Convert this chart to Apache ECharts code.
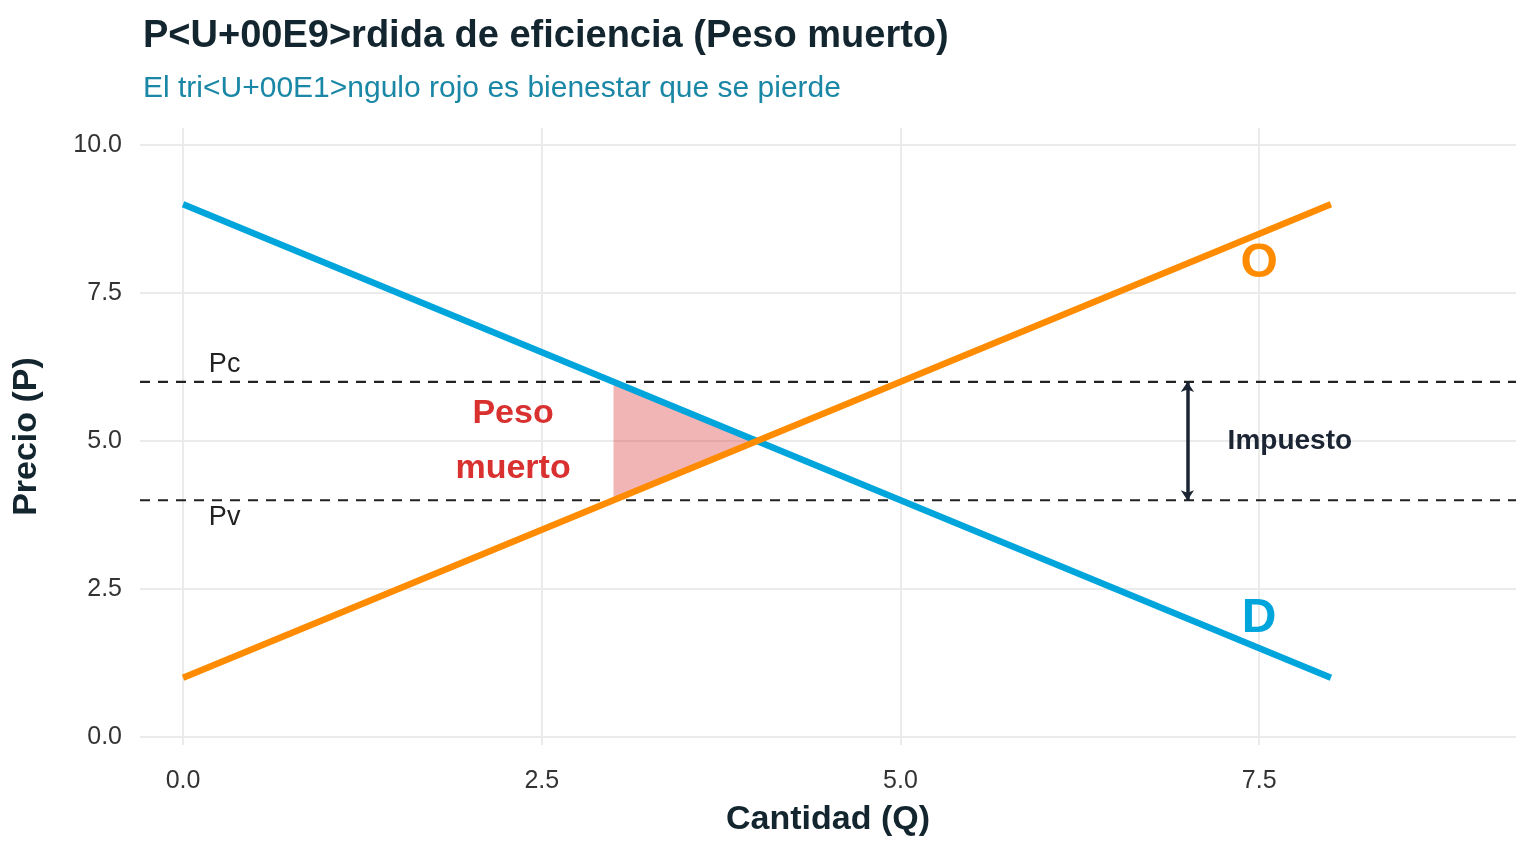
<!DOCTYPE html>
<html>
<head>
<meta charset="UTF-8">
<script src="https://cdn.jsdelivr.net/npm/echarts@6/dist/echarts.min.js"></script>
<style>body{margin:0;padding:0;background:#fff}#main{width:1536px;height:864px}</style>
</head>
<body>
<div id="main"></div>
<script>
var demanda = [[0, 9], [8, 1]];
var oferta = [[0, 1], [8, 9]];
var pc = 6, pv = 4;
var triangulo = [[3, 6], [3, 4], [4, 5]];
var impuestoX = 7;
var xTicks = [0, 2.5, 5, 7.5];
var yTicks = [0, 2.5, 5, 7.5, 10];
var X_MIN = -0.3, X_MAX = 9.29;

var chart = echarts.init(document.getElementById('main'));
function txt(name, x, y, color, size, weight, align, lh) {
  return {type: 'scatter', symbolSize: 0, silent: true, z: 10,
    itemStyle: {opacity: 1, color: color},
    data: [[x, y]],
    label: {show: true, formatter: name, position: 'inside', color: color, opacity: 1,
      fontSize: size, fontWeight: weight, align: align || 'center', lineHeight: lh || size * 1.2,
      fontFamily: 'Liberation Sans'}};
}
chart.setOption({
  animation: false,
  textStyle: {fontFamily: 'Liberation Sans'},
  title: {text: 'P<U+00E9>rdida de eficiencia (Peso muerto)',
    subtext: 'El tri<U+00E1>ngulo rojo es bienestar que se pierde',
    left: 138, top: 13, itemGap: 18,
    textStyle: {fontSize: 38, fontWeight: 'bold', color: '#13262f'},
    subtextStyle: {fontSize: 30, color: '#1b87a6'}},
  grid: {left: 140, right: 20, top: 128, bottom: 119},
  xAxis: {type: 'value', min: X_MIN, max: X_MAX,
    name: 'Cantidad (Q)', nameLocation: 'middle', nameGap: 58,
    nameTextStyle: {fontSize: 34, fontWeight: 'bold', color: '#13262f'},
    axisLine: {show: false},
    axisTick: {show: false, customValues: xTicks},
    axisLabel: {customValues: xTicks, fontSize: 25, color: '#333', margin: 24,
      formatter: function (v) { return v.toFixed(1); }},
    splitLine: {show: true, lineStyle: {color: '#ebebeb', width: 2}}},
  yAxis: {type: 'value', min: -0.135, max: 10.29,
    name: 'Precio (P)', nameLocation: 'middle', nameGap: 96,
    nameTextStyle: {fontSize: 34, fontWeight: 'bold', color: '#13262f'},
    axisLine: {show: false},
    axisTick: {show: false, customValues: yTicks},
    axisLabel: {customValues: yTicks, fontSize: 25, color: '#333', margin: 18,
      formatter: function (v) { return v.toFixed(1); }},
    splitLine: {show: true, lineStyle: {color: '#ebebeb', width: 2}}},
  series: [
    {type: 'custom', z: 3, data: [0],
      renderItem: function (p, api) {
        return {type: 'polygon', shape: {points: triangulo.map(function (d) { return api.coord(d); })},
          style: {fill: 'rgba(220,60,60,0.38)'}};
      }},
    {type: 'line', data: [[X_MIN, pc], [X_MAX, pc]], symbol: 'none', z: 2,
      lineStyle: {color: '#222', width: 2.2, type: [10, 8]}},
    {type: 'line', data: [[X_MIN, pv], [X_MAX, pv]], symbol: 'none', z: 2,
      lineStyle: {color: '#222', width: 2.2, type: [10, 8]}},
    {type: 'line', data: demanda, symbol: 'none', z: 4, lineStyle: {color: '#00a5dc', width: 6.5}},
    {type: 'line', data: oferta, symbol: 'none', z: 5, lineStyle: {color: '#ff8c00', width: 6.5}},
    {type: 'scatter', data: [], symbolSize: 0, z: 6,
      markLine: {silent: true, symbol: ['arrow', 'arrow'], symbolSize: [10, 10],
        label: {show: false}, itemStyle: {color: '#1c2533'},
        lineStyle: {color: '#1c2533', width: 3.5, type: 'solid'},
        data: [[{coord: [impuestoX, pv]}, {coord: [impuestoX, pc]}]]}},
    txt('O', 7.5, 8.0, '#ff8c00', 48, 'bold'),
    txt('D', 7.5, 2.0, '#00a5dc', 48, 'bold'),
    txt('Impuesto', 7.28, 5.0, '#1c2533', 28, 'bold', 'left'),
    txt('Pc', 0.18, 6.3, '#222', 27, 'normal', 'left'),
    txt('Pv', 0.18, 3.7, '#222', 27, 'normal', 'left'),
    txt('Peso\nmuerto', 2.3, 5.0, '#d93030', 34, 'bold', 'center', 55)
  ]
});
</script>
</body>
</html>
